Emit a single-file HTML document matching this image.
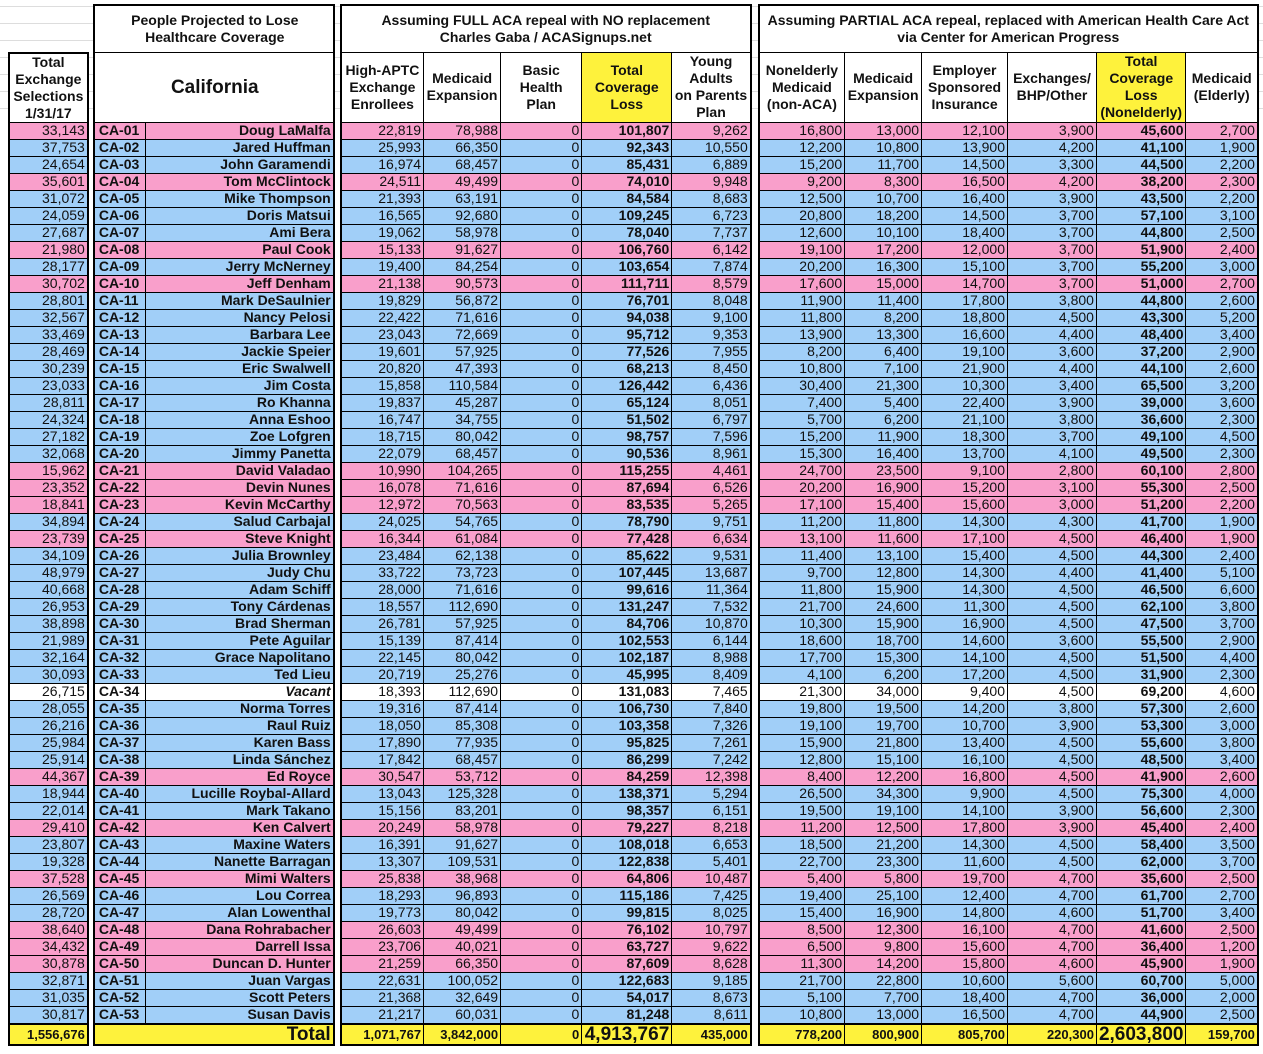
<!DOCTYPE html>
<html><head><meta charset="utf-8"><style>
html,body{margin:0;padding:0;background:#fff;width:1263px;height:1054px;overflow:hidden}
body{background-image:linear-gradient(#ddd 1px,transparent 1px);background-size:100% 17px;background-position:0 6px}
table{position:absolute;left:0;top:4px;border-collapse:collapse;table-layout:fixed;font-family:"Liberation Sans",Arial,sans-serif;font-size:14px;color:#111}
td{border:1px solid #000;padding:0 2px;text-align:right;white-space:nowrap;overflow:hidden;line-height:15px;height:16px}
td:nth-child(1),td:nth-child(3),td:nth-child(6),td:nth-child(12),td:nth-child(19){border:none;background:#fff}
td:nth-child(2),td:nth-child(4),td:nth-child(7),td:nth-child(13){border-left:2px solid #000}
td:nth-child(2),td:nth-child(5),td:nth-child(11),td:nth-child(18){border-right:2px solid #000}
td:nth-child(4),td:nth-child(5),td:nth-child(10),td:nth-child(17){font-weight:bold}
td:nth-child(4){text-align:left;padding-left:4px}
tr.r td{background:#F99FCB}tr.d td{background:#A1CFF8}tr.v td{background:#fff}
tr.r td:nth-child(1),tr.r td:nth-child(3),tr.r td:nth-child(6),tr.r td:nth-child(12),tr.r td:nth-child(19),
tr.d td:nth-child(1),tr.d td:nth-child(3),tr.d td:nth-child(6),tr.d td:nth-child(12),tr.d td:nth-child(19){background:#fff}
tr.h1 td,tr.h2 td{border:1px solid #000;text-align:center;font-weight:bold;font-size:14px;line-height:17px;background:#fff}
tr.h1 td{height:46px;border-top:2px solid #000}
tr.h2 td{height:65px}
tr.h1 td.L,tr.h2 td.L{border-left:2px solid #000}
tr.h1 td.R,tr.h2 td.R{border-right:2px solid #000}
tr.h2 td.T{border-top:2px solid #000}
tr.h2 td.y{background:#FEF23C}
tr.h1 td.s,tr.h2 td.s,tr.h1 td.e{border:none;background:transparent}
tr.t td{height:19px;background:#FEF23C;font-weight:bold;font-size:13px;border-top:2px solid #000;border-bottom:2px solid #000}
tr.t td.big{font-size:19px}
tr.t td:nth-child(4){border-right:hidden}
tr.t td:nth-child(1),tr.t td:nth-child(3),tr.t td:nth-child(6),tr.t td:nth-child(12),tr.t td:nth-child(19){background:#fff;border-top:none;border-bottom:none}
i{font-style:italic}
</style></head><body>
<table>
<colgroup><col style="width:9px"><col style="width:79px"><col style="width:5px"><col style="width:52px"><col style="width:189px"><col style="width:7px"><col style="width:83px"><col style="width:77px"><col style="width:82px"><col style="width:90px"><col style="width:79px"><col style="width:8px"><col style="width:86px"><col style="width:77px"><col style="width:86px"><col style="width:89px"><col style="width:89px"><col style="width:72px"><col style="width:4px"></colgroup>
<tr class="h1"><td class="s"></td><td class="e"></td><td class="s"></td><td colspan="2" class="L R">People Projected to Lose<br>Healthcare Coverage</td><td class="s"></td><td colspan="5" class="L R">Assuming FULL ACA repeal with NO replacement<br>Charles Gaba / ACASignups.net</td><td class="s"></td><td colspan="6" class="L R">Assuming PARTIAL ACA repeal, replaced with American Health Care Act<br>via Center for American Progress</td><td class="s"></td></tr>
<tr class="h2"><td class="s"></td><td class="L R T">Total<br>Exchange<br>Selections<br>1/31/17</td><td class="s"></td><td colspan="2" class="L R" style="font-size:19px">California</td><td class="s"></td><td class="L">High-APTC<br>Exchange<br>Enrollees</td><td>Medicaid<br>Expansion</td><td>Basic<br>Health<br>Plan</td><td class="y">Total<br>Coverage<br>Loss</td><td class="R">Young<br>Adults<br>on Parents<br>Plan</td><td class="s"></td><td class="L">Nonelderly<br>Medicaid<br>(non-ACA)</td><td>Medicaid<br>Expansion</td><td>Employer<br>Sponsored<br>Insurance</td><td>Exchanges/<br>BHP/Other</td><td class="y">Total<br>Coverage<br>Loss<br>(Nonelderly)</td><td class="R">Medicaid<br>(Elderly)</td><td class="s"></td></tr>
<tr class="r"><td></td><td>33,143</td><td></td><td>CA-01</td><td>Doug LaMalfa</td><td></td><td>22,819</td><td>78,988</td><td>0</td><td>101,807</td><td>9,262</td><td></td><td>16,800</td><td>13,000</td><td>12,100</td><td>3,900</td><td>45,600</td><td>2,700</td><td></td></tr>
<tr class="d"><td></td><td>37,753</td><td></td><td>CA-02</td><td>Jared Huffman</td><td></td><td>25,993</td><td>66,350</td><td>0</td><td>92,343</td><td>10,550</td><td></td><td>12,200</td><td>10,800</td><td>13,900</td><td>4,200</td><td>41,100</td><td>1,900</td><td></td></tr>
<tr class="d"><td></td><td>24,654</td><td></td><td>CA-03</td><td>John Garamendi</td><td></td><td>16,974</td><td>68,457</td><td>0</td><td>85,431</td><td>6,889</td><td></td><td>15,200</td><td>11,700</td><td>14,500</td><td>3,300</td><td>44,500</td><td>2,200</td><td></td></tr>
<tr class="r"><td></td><td>35,601</td><td></td><td>CA-04</td><td>Tom McClintock</td><td></td><td>24,511</td><td>49,499</td><td>0</td><td>74,010</td><td>9,948</td><td></td><td>9,200</td><td>8,300</td><td>16,500</td><td>4,200</td><td>38,200</td><td>2,300</td><td></td></tr>
<tr class="d"><td></td><td>31,072</td><td></td><td>CA-05</td><td>Mike Thompson</td><td></td><td>21,393</td><td>63,191</td><td>0</td><td>84,584</td><td>8,683</td><td></td><td>12,500</td><td>10,700</td><td>16,400</td><td>3,900</td><td>43,500</td><td>2,200</td><td></td></tr>
<tr class="d"><td></td><td>24,059</td><td></td><td>CA-06</td><td>Doris Matsui</td><td></td><td>16,565</td><td>92,680</td><td>0</td><td>109,245</td><td>6,723</td><td></td><td>20,800</td><td>18,200</td><td>14,500</td><td>3,700</td><td>57,100</td><td>3,100</td><td></td></tr>
<tr class="d"><td></td><td>27,687</td><td></td><td>CA-07</td><td>Ami Bera</td><td></td><td>19,062</td><td>58,978</td><td>0</td><td>78,040</td><td>7,737</td><td></td><td>12,600</td><td>10,100</td><td>18,400</td><td>3,700</td><td>44,800</td><td>2,500</td><td></td></tr>
<tr class="r"><td></td><td>21,980</td><td></td><td>CA-08</td><td>Paul Cook</td><td></td><td>15,133</td><td>91,627</td><td>0</td><td>106,760</td><td>6,142</td><td></td><td>19,100</td><td>17,200</td><td>12,000</td><td>3,700</td><td>51,900</td><td>2,400</td><td></td></tr>
<tr class="d"><td></td><td>28,177</td><td></td><td>CA-09</td><td>Jerry McNerney</td><td></td><td>19,400</td><td>84,254</td><td>0</td><td>103,654</td><td>7,874</td><td></td><td>20,200</td><td>16,300</td><td>15,100</td><td>3,700</td><td>55,200</td><td>3,000</td><td></td></tr>
<tr class="r"><td></td><td>30,702</td><td></td><td>CA-10</td><td>Jeff Denham</td><td></td><td>21,138</td><td>90,573</td><td>0</td><td>111,711</td><td>8,579</td><td></td><td>17,600</td><td>15,000</td><td>14,700</td><td>3,700</td><td>51,000</td><td>2,700</td><td></td></tr>
<tr class="d"><td></td><td>28,801</td><td></td><td>CA-11</td><td>Mark DeSaulnier</td><td></td><td>19,829</td><td>56,872</td><td>0</td><td>76,701</td><td>8,048</td><td></td><td>11,900</td><td>11,400</td><td>17,800</td><td>3,800</td><td>44,800</td><td>2,600</td><td></td></tr>
<tr class="d"><td></td><td>32,567</td><td></td><td>CA-12</td><td>Nancy Pelosi</td><td></td><td>22,422</td><td>71,616</td><td>0</td><td>94,038</td><td>9,100</td><td></td><td>11,800</td><td>8,200</td><td>18,800</td><td>4,500</td><td>43,300</td><td>5,200</td><td></td></tr>
<tr class="d"><td></td><td>33,469</td><td></td><td>CA-13</td><td>Barbara Lee</td><td></td><td>23,043</td><td>72,669</td><td>0</td><td>95,712</td><td>9,353</td><td></td><td>13,900</td><td>13,300</td><td>16,600</td><td>4,400</td><td>48,400</td><td>3,400</td><td></td></tr>
<tr class="d"><td></td><td>28,469</td><td></td><td>CA-14</td><td>Jackie Speier</td><td></td><td>19,601</td><td>57,925</td><td>0</td><td>77,526</td><td>7,955</td><td></td><td>8,200</td><td>6,400</td><td>19,100</td><td>3,600</td><td>37,200</td><td>2,900</td><td></td></tr>
<tr class="d"><td></td><td>30,239</td><td></td><td>CA-15</td><td>Eric Swalwell</td><td></td><td>20,820</td><td>47,393</td><td>0</td><td>68,213</td><td>8,450</td><td></td><td>10,800</td><td>7,100</td><td>21,900</td><td>4,400</td><td>44,100</td><td>2,600</td><td></td></tr>
<tr class="d"><td></td><td>23,033</td><td></td><td>CA-16</td><td>Jim Costa</td><td></td><td>15,858</td><td>110,584</td><td>0</td><td>126,442</td><td>6,436</td><td></td><td>30,400</td><td>21,300</td><td>10,300</td><td>3,400</td><td>65,500</td><td>3,200</td><td></td></tr>
<tr class="d"><td></td><td>28,811</td><td></td><td>CA-17</td><td>Ro Khanna</td><td></td><td>19,837</td><td>45,287</td><td>0</td><td>65,124</td><td>8,051</td><td></td><td>7,400</td><td>5,400</td><td>22,400</td><td>3,900</td><td>39,000</td><td>3,600</td><td></td></tr>
<tr class="d"><td></td><td>24,324</td><td></td><td>CA-18</td><td>Anna Eshoo</td><td></td><td>16,747</td><td>34,755</td><td>0</td><td>51,502</td><td>6,797</td><td></td><td>5,700</td><td>6,200</td><td>21,100</td><td>3,800</td><td>36,600</td><td>2,300</td><td></td></tr>
<tr class="d"><td></td><td>27,182</td><td></td><td>CA-19</td><td>Zoe Lofgren</td><td></td><td>18,715</td><td>80,042</td><td>0</td><td>98,757</td><td>7,596</td><td></td><td>15,200</td><td>11,900</td><td>18,300</td><td>3,700</td><td>49,100</td><td>4,500</td><td></td></tr>
<tr class="d"><td></td><td>32,068</td><td></td><td>CA-20</td><td>Jimmy Panetta</td><td></td><td>22,079</td><td>68,457</td><td>0</td><td>90,536</td><td>8,961</td><td></td><td>15,300</td><td>16,400</td><td>13,700</td><td>4,100</td><td>49,500</td><td>2,300</td><td></td></tr>
<tr class="r"><td></td><td>15,962</td><td></td><td>CA-21</td><td>David Valadao</td><td></td><td>10,990</td><td>104,265</td><td>0</td><td>115,255</td><td>4,461</td><td></td><td>24,700</td><td>23,500</td><td>9,100</td><td>2,800</td><td>60,100</td><td>2,800</td><td></td></tr>
<tr class="r"><td></td><td>23,352</td><td></td><td>CA-22</td><td>Devin Nunes</td><td></td><td>16,078</td><td>71,616</td><td>0</td><td>87,694</td><td>6,526</td><td></td><td>20,200</td><td>16,900</td><td>15,200</td><td>3,100</td><td>55,300</td><td>2,500</td><td></td></tr>
<tr class="r"><td></td><td>18,841</td><td></td><td>CA-23</td><td>Kevin McCarthy</td><td></td><td>12,972</td><td>70,563</td><td>0</td><td>83,535</td><td>5,265</td><td></td><td>17,100</td><td>15,400</td><td>15,600</td><td>3,000</td><td>51,200</td><td>2,200</td><td></td></tr>
<tr class="d"><td></td><td>34,894</td><td></td><td>CA-24</td><td>Salud Carbajal</td><td></td><td>24,025</td><td>54,765</td><td>0</td><td>78,790</td><td>9,751</td><td></td><td>11,200</td><td>11,800</td><td>14,300</td><td>4,300</td><td>41,700</td><td>1,900</td><td></td></tr>
<tr class="r"><td></td><td>23,739</td><td></td><td>CA-25</td><td>Steve Knight</td><td></td><td>16,344</td><td>61,084</td><td>0</td><td>77,428</td><td>6,634</td><td></td><td>13,100</td><td>11,600</td><td>17,100</td><td>4,500</td><td>46,400</td><td>1,900</td><td></td></tr>
<tr class="d"><td></td><td>34,109</td><td></td><td>CA-26</td><td>Julia Brownley</td><td></td><td>23,484</td><td>62,138</td><td>0</td><td>85,622</td><td>9,531</td><td></td><td>11,400</td><td>13,100</td><td>15,400</td><td>4,500</td><td>44,300</td><td>2,400</td><td></td></tr>
<tr class="d"><td></td><td>48,979</td><td></td><td>CA-27</td><td>Judy Chu</td><td></td><td>33,722</td><td>73,723</td><td>0</td><td>107,445</td><td>13,687</td><td></td><td>9,700</td><td>12,800</td><td>14,300</td><td>4,400</td><td>41,400</td><td>5,100</td><td></td></tr>
<tr class="d"><td></td><td>40,668</td><td></td><td>CA-28</td><td>Adam Schiff</td><td></td><td>28,000</td><td>71,616</td><td>0</td><td>99,616</td><td>11,364</td><td></td><td>11,800</td><td>15,900</td><td>14,300</td><td>4,500</td><td>46,500</td><td>6,600</td><td></td></tr>
<tr class="d"><td></td><td>26,953</td><td></td><td>CA-29</td><td>Tony Cárdenas</td><td></td><td>18,557</td><td>112,690</td><td>0</td><td>131,247</td><td>7,532</td><td></td><td>21,700</td><td>24,600</td><td>11,300</td><td>4,500</td><td>62,100</td><td>3,800</td><td></td></tr>
<tr class="d"><td></td><td>38,898</td><td></td><td>CA-30</td><td>Brad Sherman</td><td></td><td>26,781</td><td>57,925</td><td>0</td><td>84,706</td><td>10,870</td><td></td><td>10,300</td><td>15,900</td><td>16,900</td><td>4,500</td><td>47,500</td><td>3,700</td><td></td></tr>
<tr class="d"><td></td><td>21,989</td><td></td><td>CA-31</td><td>Pete Aguilar</td><td></td><td>15,139</td><td>87,414</td><td>0</td><td>102,553</td><td>6,144</td><td></td><td>18,600</td><td>18,700</td><td>14,600</td><td>3,600</td><td>55,500</td><td>2,900</td><td></td></tr>
<tr class="d"><td></td><td>32,164</td><td></td><td>CA-32</td><td>Grace Napolitano</td><td></td><td>22,145</td><td>80,042</td><td>0</td><td>102,187</td><td>8,988</td><td></td><td>17,700</td><td>15,300</td><td>14,100</td><td>4,500</td><td>51,500</td><td>4,400</td><td></td></tr>
<tr class="d"><td></td><td>30,093</td><td></td><td>CA-33</td><td>Ted Lieu</td><td></td><td>20,719</td><td>25,276</td><td>0</td><td>45,995</td><td>8,409</td><td></td><td>4,100</td><td>6,200</td><td>17,200</td><td>4,500</td><td>31,900</td><td>2,300</td><td></td></tr>
<tr class="v"><td></td><td>26,715</td><td></td><td>CA-34</td><td><i>Vacant</i></td><td></td><td>18,393</td><td>112,690</td><td>0</td><td>131,083</td><td>7,465</td><td></td><td>21,300</td><td>34,000</td><td>9,400</td><td>4,500</td><td>69,200</td><td>4,600</td><td></td></tr>
<tr class="d"><td></td><td>28,055</td><td></td><td>CA-35</td><td>Norma Torres</td><td></td><td>19,316</td><td>87,414</td><td>0</td><td>106,730</td><td>7,840</td><td></td><td>19,800</td><td>19,500</td><td>14,200</td><td>3,800</td><td>57,300</td><td>2,600</td><td></td></tr>
<tr class="d"><td></td><td>26,216</td><td></td><td>CA-36</td><td>Raul Ruiz</td><td></td><td>18,050</td><td>85,308</td><td>0</td><td>103,358</td><td>7,326</td><td></td><td>19,100</td><td>19,700</td><td>10,700</td><td>3,900</td><td>53,300</td><td>3,000</td><td></td></tr>
<tr class="d"><td></td><td>25,984</td><td></td><td>CA-37</td><td>Karen Bass</td><td></td><td>17,890</td><td>77,935</td><td>0</td><td>95,825</td><td>7,261</td><td></td><td>15,900</td><td>21,800</td><td>13,400</td><td>4,500</td><td>55,600</td><td>3,800</td><td></td></tr>
<tr class="d"><td></td><td>25,914</td><td></td><td>CA-38</td><td>Linda Sánchez</td><td></td><td>17,842</td><td>68,457</td><td>0</td><td>86,299</td><td>7,242</td><td></td><td>12,800</td><td>15,100</td><td>16,100</td><td>4,500</td><td>48,500</td><td>3,400</td><td></td></tr>
<tr class="r"><td></td><td>44,367</td><td></td><td>CA-39</td><td>Ed Royce</td><td></td><td>30,547</td><td>53,712</td><td>0</td><td>84,259</td><td>12,398</td><td></td><td>8,400</td><td>12,200</td><td>16,800</td><td>4,500</td><td>41,900</td><td>2,600</td><td></td></tr>
<tr class="d"><td></td><td>18,944</td><td></td><td>CA-40</td><td>Lucille Roybal-Allard</td><td></td><td>13,043</td><td>125,328</td><td>0</td><td>138,371</td><td>5,294</td><td></td><td>26,500</td><td>34,300</td><td>9,900</td><td>4,500</td><td>75,300</td><td>4,000</td><td></td></tr>
<tr class="d"><td></td><td>22,014</td><td></td><td>CA-41</td><td>Mark Takano</td><td></td><td>15,156</td><td>83,201</td><td>0</td><td>98,357</td><td>6,151</td><td></td><td>19,500</td><td>19,100</td><td>14,100</td><td>3,900</td><td>56,600</td><td>2,300</td><td></td></tr>
<tr class="r"><td></td><td>29,410</td><td></td><td>CA-42</td><td>Ken Calvert</td><td></td><td>20,249</td><td>58,978</td><td>0</td><td>79,227</td><td>8,218</td><td></td><td>11,200</td><td>12,500</td><td>17,800</td><td>3,900</td><td>45,400</td><td>2,400</td><td></td></tr>
<tr class="d"><td></td><td>23,807</td><td></td><td>CA-43</td><td>Maxine Waters</td><td></td><td>16,391</td><td>91,627</td><td>0</td><td>108,018</td><td>6,653</td><td></td><td>18,500</td><td>21,200</td><td>14,300</td><td>4,500</td><td>58,400</td><td>3,500</td><td></td></tr>
<tr class="d"><td></td><td>19,328</td><td></td><td>CA-44</td><td>Nanette Barragan</td><td></td><td>13,307</td><td>109,531</td><td>0</td><td>122,838</td><td>5,401</td><td></td><td>22,700</td><td>23,300</td><td>11,600</td><td>4,500</td><td>62,000</td><td>3,700</td><td></td></tr>
<tr class="r"><td></td><td>37,528</td><td></td><td>CA-45</td><td>Mimi Walters</td><td></td><td>25,838</td><td>38,968</td><td>0</td><td>64,806</td><td>10,487</td><td></td><td>5,400</td><td>5,800</td><td>19,700</td><td>4,700</td><td>35,600</td><td>2,500</td><td></td></tr>
<tr class="d"><td></td><td>26,569</td><td></td><td>CA-46</td><td>Lou Correa</td><td></td><td>18,293</td><td>96,893</td><td>0</td><td>115,186</td><td>7,425</td><td></td><td>19,400</td><td>25,100</td><td>12,400</td><td>4,700</td><td>61,700</td><td>2,700</td><td></td></tr>
<tr class="d"><td></td><td>28,720</td><td></td><td>CA-47</td><td>Alan Lowenthal</td><td></td><td>19,773</td><td>80,042</td><td>0</td><td>99,815</td><td>8,025</td><td></td><td>15,400</td><td>16,900</td><td>14,800</td><td>4,600</td><td>51,700</td><td>3,400</td><td></td></tr>
<tr class="r"><td></td><td>38,640</td><td></td><td>CA-48</td><td>Dana Rohrabacher</td><td></td><td>26,603</td><td>49,499</td><td>0</td><td>76,102</td><td>10,797</td><td></td><td>8,500</td><td>12,300</td><td>16,100</td><td>4,700</td><td>41,600</td><td>2,500</td><td></td></tr>
<tr class="r"><td></td><td>34,432</td><td></td><td>CA-49</td><td>Darrell Issa</td><td></td><td>23,706</td><td>40,021</td><td>0</td><td>63,727</td><td>9,622</td><td></td><td>6,500</td><td>9,800</td><td>15,600</td><td>4,700</td><td>36,400</td><td>1,200</td><td></td></tr>
<tr class="r"><td></td><td>30,878</td><td></td><td>CA-50</td><td>Duncan D. Hunter</td><td></td><td>21,259</td><td>66,350</td><td>0</td><td>87,609</td><td>8,628</td><td></td><td>11,300</td><td>14,200</td><td>15,800</td><td>4,600</td><td>45,900</td><td>1,900</td><td></td></tr>
<tr class="d"><td></td><td>32,871</td><td></td><td>CA-51</td><td>Juan Vargas</td><td></td><td>22,631</td><td>100,052</td><td>0</td><td>122,683</td><td>9,185</td><td></td><td>21,700</td><td>22,800</td><td>10,600</td><td>5,600</td><td>60,700</td><td>5,000</td><td></td></tr>
<tr class="d"><td></td><td>31,035</td><td></td><td>CA-52</td><td>Scott Peters</td><td></td><td>21,368</td><td>32,649</td><td>0</td><td>54,017</td><td>8,673</td><td></td><td>5,100</td><td>7,700</td><td>18,400</td><td>4,700</td><td>36,000</td><td>2,000</td><td></td></tr>
<tr class="d"><td></td><td>30,817</td><td></td><td>CA-53</td><td>Susan Davis</td><td></td><td>21,217</td><td>60,031</td><td>0</td><td>81,248</td><td>8,611</td><td></td><td>10,800</td><td>13,000</td><td>16,500</td><td>4,700</td><td>44,900</td><td>2,500</td><td></td></tr>
<tr class="t"><td></td><td>1,556,676</td><td></td><td></td><td class="big">Total</td><td></td><td>1,071,767</td><td>3,842,000</td><td>0</td><td class="big">4,913,767</td><td>435,000</td><td></td><td>778,200</td><td>800,900</td><td>805,700</td><td>220,300</td><td class="big">2,603,800</td><td>159,700</td><td></td></tr>
</table>
</body></html>
